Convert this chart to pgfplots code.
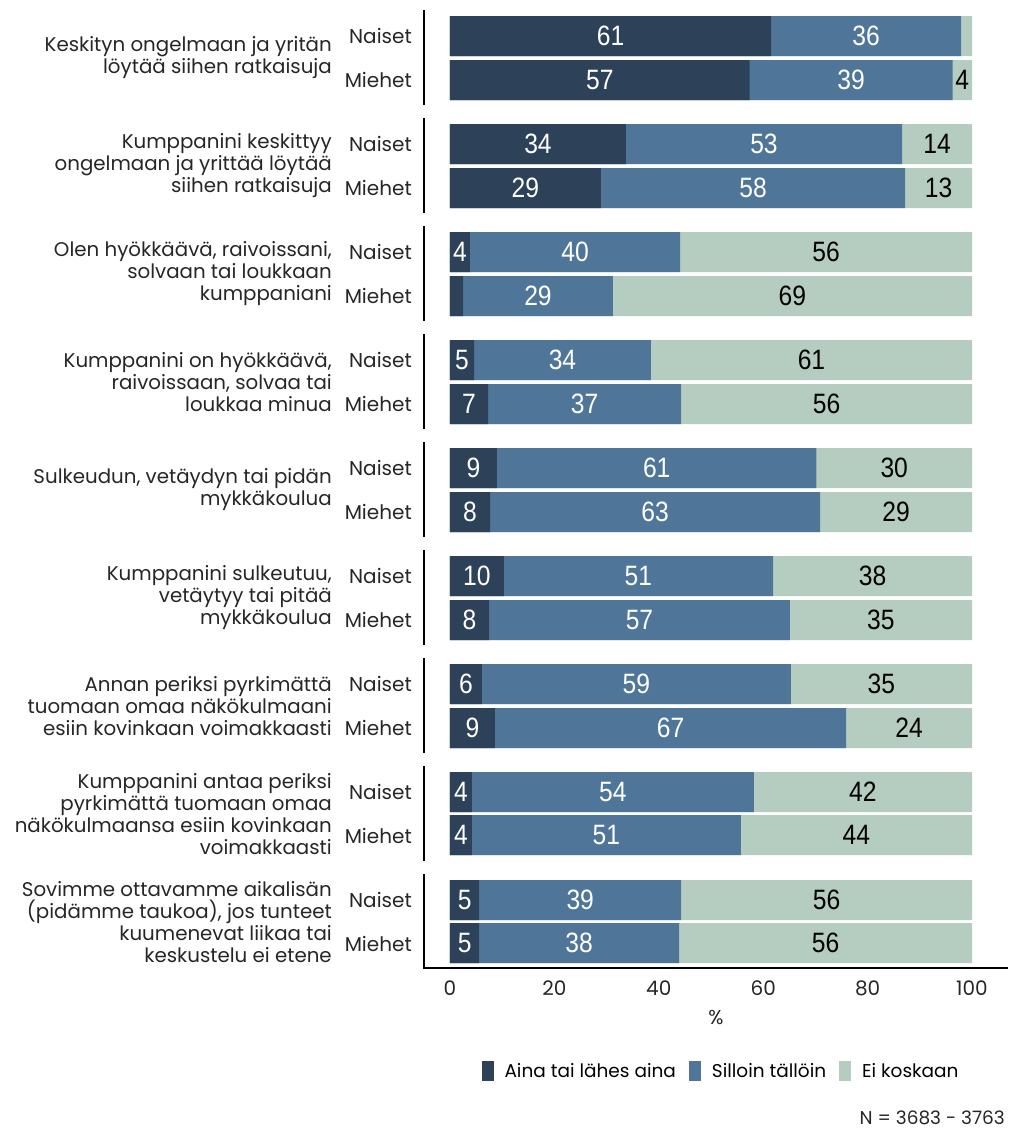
\documentclass[border=0pt]{standalone}
\usepackage{pgfplots}
\pgfplotsset{compat=1.18}
\usepackage{pgfplotstable}
\usepackage{fontspec}
\setmainfont{Poppins}
\newfontfamily\barfont[FakeStretch=0.88]{Liberation Sans}
\definecolor{cdark}{RGB}{45,66,88}
\definecolor{cmid}{RGB}{79,118,153}
\definecolor{clight}{RGB}{181,205,192}

\pgfplotstableread{
y a b c la lb lc
-36 61.5 36.4 2.1 61 36 {}
-80 57.4 38.9 3.7 57 39 4
-144 33.7 52.9 13.4 34 53 14
-188 28.9 58.3 12.8 29 58 13
-252 3.8 40.3 55.9 4 40 56
-296 2.5 28.7 68.8 {} 29 69
-360 4.6 33.9 61.5 5 34 61
-404 7.3 37.0 55.7 7 37 56
-468 9.0 61.2 29.8 9 61 30
-512 7.7 63.2 29.1 8 63 29
-576 10.3 51.6 38.1 10 51 38
-620 7.5 57.6 34.9 8 57 35
-684 6.1 59.2 34.7 6 59 35
-728 8.6 67.3 24.1 9 67 24
-792 4.2 54.0 41.8 4 54 42
-835 4.2 51.5 44.3 4 51 44
-900 5.6 38.7 55.7 5 39 56
-943 5.6 38.3 56.1 5 38 56
}\data

\begin{document}
\begin{tikzpicture}
\begin{axis}[
  anchor=origin,
  x=5.22pt, y=1pt,
  xmin=-4.98, xmax=106.9, ymin=-968, ymax=0,
  axis x line*=bottom, axis y line=none,
  x axis line style={-, line width=2pt, black},
  xtick={0,20,...,100}, major tick length=0pt, ytick=\empty,
  /pgf/number format/assume math mode=true,
  xticklabel style={font=\fontsize{20}{20}\selectfont, text=black!85, yshift=-9pt},
  xlabel={\%}, xlabel style={font=\fontsize{20}{20}\selectfont, text=black!85, yshift=-8pt},
  clip=false,
  legend columns=3,
  legend cell align=left,
  legend style={draw=none, fill=none, at={(0.5086,-0.1064)}, anchor=center,
    font=\fontsize{18.5}{18.5}\selectfont,
    /tikz/every odd column/.append style={column sep=9pt},
    /tikz/every even column/.append style={column sep=11pt}},
  legend image code/.code={\fill (0pt,-10pt) rectangle (12pt,10pt);},
]
\addlegendimage{fill=cdark, draw=none}
\addlegendentry{Aina tai lähes aina}
\addlegendimage{fill=cmid, draw=none}
\addlegendentry{Silloin tällöin}
\addlegendimage{fill=clight, draw=none}
\addlegendentry{Ei koskaan}

\addplot[xbar, bar width=40pt, bar shift=0pt, fill=clight, draw=none, forget plot]
  table[x expr=\thisrow{a}+\thisrow{b}+\thisrow{c}, y=y]{\data};
\addplot[xbar, bar width=40pt, bar shift=0pt, fill=cmid, draw=none, forget plot]
  table[x expr=\thisrow{a}+\thisrow{b}, y=y]{\data};
\addplot[xbar, bar width=40pt, bar shift=0pt, fill=cdark, draw=none, forget plot]
  table[x=a, y=y]{\data};

\addplot[draw=none, mark=none, forget plot, nodes near coords, point meta=explicit symbolic,
  every node near coord/.append style={anchor=center, text=white, font=\barfont\fontsize{28}{28}\selectfont}]
  table[x expr=\thisrow{a}/2, y=y, meta=la]{\data};
\addplot[draw=none, mark=none, forget plot, nodes near coords, point meta=explicit symbolic,
  every node near coord/.append style={anchor=center, text=white, font=\barfont\fontsize{28}{28}\selectfont}]
  table[x expr=\thisrow{a}+\thisrow{b}/2, y=y, meta=lb]{\data};
\addplot[draw=none, mark=none, forget plot, nodes near coords, point meta=explicit symbolic,
  every node near coord/.append style={anchor=center, text=black, font=\barfont\fontsize{28}{28}\selectfont}]
  table[x expr=\thisrow{a}+\thisrow{b}+\thisrow{c}/2, y=y, meta=lc]{\data};
\end{axis}

\foreach \i in {0,...,8} {
  \draw[line width=2pt] (-26pt,{-(10+108*\i)*1pt}) -- (-26pt,{-(105+108*\i)*1pt});
  \node[anchor=east, inner sep=0pt, font=\fontsize{20}{22}\selectfont, text=black!85] at (-38pt,{-(36+108*\i)*1pt}) {Naiset};
  \node[anchor=east, inner sep=0pt, font=\fontsize{20}{22}\selectfont, text=black!85] at (-38pt,{-(80+108*\i)*1pt}) {Miehet};
}
\tikzset{glab/.style={anchor=east, align=right, inner sep=0pt, font=\fontsize{19.8}{22}\selectfont, text=black!85}}
\node[glab] at (-118pt,-58pt) {Keskityn ongelmaan ja yritän\\löytää siihen ratkaisuja};
\node[glab] at (-118pt,-166pt) {Kumppanini keskittyy\\ongelmaan ja yrittää löytää\\siihen ratkaisuja};
\node[glab] at (-118pt,-274pt) {Olen hyökkäävä, raivoissani,\\solvaan tai loukkaan\\kumppaniani};
\node[glab] at (-118pt,-382pt) {Kumppanini on hyökkäävä,\\raivoissaan, solvaa tai\\loukkaa minua};
\node[glab] at (-118pt,-490pt) {Sulkeudun, vetäydyn tai pidän\\mykkäkoulua};
\node[glab] at (-118pt,-598pt) {Kumppanini sulkeutuu,\\vetäytyy tai pitää\\mykkäkoulua};
\node[glab] at (-118pt,-706pt) {Annan periksi pyrkimättä\\tuomaan omaa näkökulmaani\\esiin kovinkaan voimakkaasti};
\node[glab] at (-118pt,-814pt) {Kumppanini antaa periksi\\pyrkimättä tuomaan omaa\\näkökulmaansa esiin kovinkaan\\voimakkaasti};
\node[glab] at (-118pt,-922pt) {Sovimme ottavamme aikalisän\\(pidämme taukoa), jos tunteet\\kuumenevat liikaa tai\\keskustelu ei etene};
\node[anchor=east, inner sep=0pt, font=\fontsize{18.5}{18.5}\selectfont, text=black!85] at (555pt,-1118pt) {N = 3683 - 3763};
\path[use as bounding box] (-450pt,0pt) rectangle (574pt,-1135pt);
\end{tikzpicture}
\end{document}
